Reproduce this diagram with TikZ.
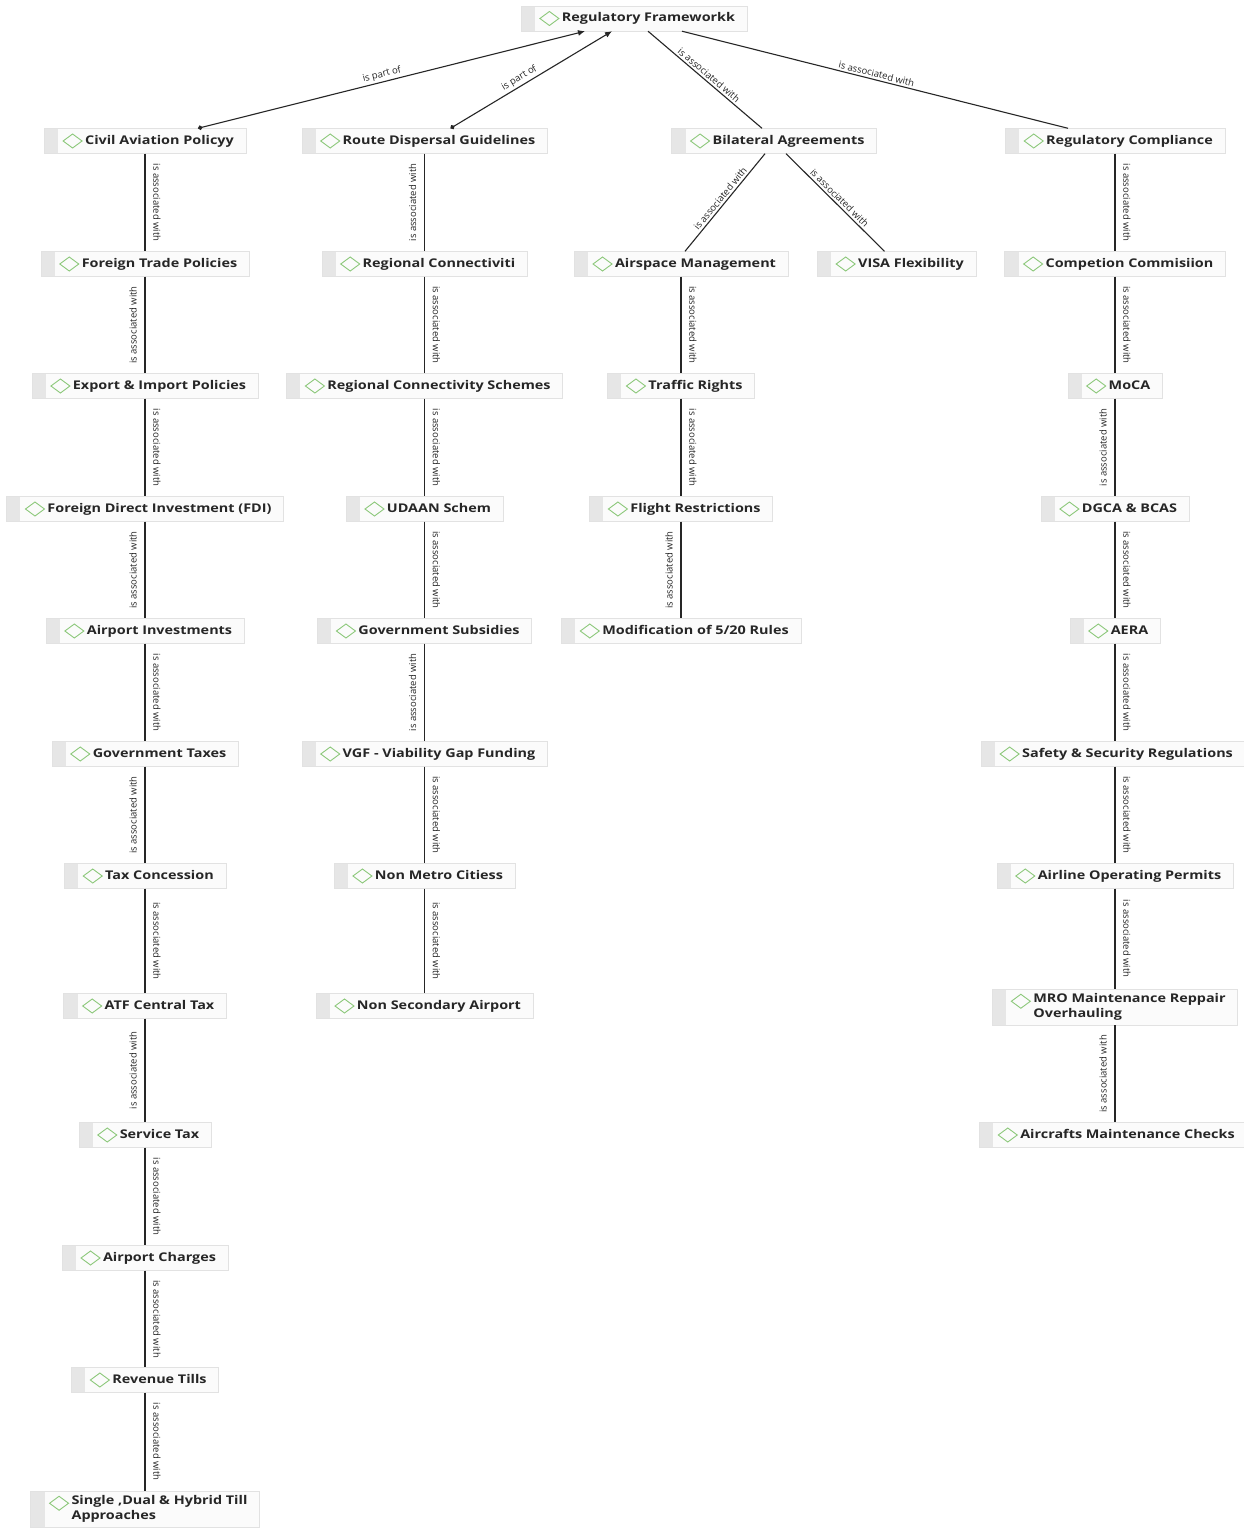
\documentclass[tikz,border=0pt]{standalone}
\usepackage{fontspec}
\setmainfont{Open Sans}
\newfontfamily\boxfont{Open Sans}[FakeStretch=1.2]
\usetikzlibrary{arrows.meta}
\definecolor{diamg}{HTML}{8CC87A}
\definecolor{stripe}{HTML}{E6E6E6}
\definecolor{boxfill}{HTML}{FBFBFB}
\definecolor{boxline}{HTML}{E2E2E2}
\tikzset{
  box/.style={draw=boxline, fill=boxfill, font=\boxfont\bfseries\fontsize{12}{14.5}\selectfont,
    text=black!85, inner ysep=5pt, inner xsep=0pt, minimum height=25pt, align=left,
    text height=9pt, text depth=3pt,
    path picture={
      \fill[stripe] (path picture bounding box.north west) rectangle ([xshift=14pt]path picture bounding box.south west);
      \draw[diamg, line width=0.9pt] ([xshift=19pt,yshift=-12.5pt]path picture bounding box.north west)
         -- ++(9.5pt,7pt) -- ++(9.5pt,-7pt) -- ++(-9.5pt,-7pt) -- cycle;
    }},
  twoline/.style={text depth=17.5pt},
  edge/.style={draw=black!85, line width=1.1pt},
  lab/.style={font=\fontsize{9.5}{10}\selectfont, inner sep=1pt, text=black!85},
  labR/.style={lab, xshift=12pt, rotate=-90},
  labL/.style={lab, xshift=-12pt, rotate=90},
}
\newcommand{\bx}[1]{\hspace*{41pt}#1\hspace*{12pt}}
\newcommand{\bxx}[2]{\hspace*{41pt}\begin{tabular}[t]{@{}l@{}}#1\\#2\end{tabular}\hspace*{12pt}}
\begin{document}
\begin{tikzpicture}[x=1pt,y=-1pt]
\fill[white] (0,0) rectangle (1244,1528);
\useasboundingbox (0,0) rectangle (1244,1528);

% top
\node[box] (reg) at (634,18.5) {\bx{Regulatory Frameworkk}};

% column 1
\node[box] (civ) at (145,141) {\bx{Civil Aviation Policyy}};
\node[box] (ftp) at (145,264) {\bx{Foreign Trade Policies}};
\node[box] (eip) at (145,386) {\bx{Export \& Import Policies}};
\node[box] (fdi) at (145,509) {\bx{Foreign Direct Investment (FDI)}};
\node[box] (ai)  at (145,631) {\bx{Airport Investments}};
\node[box] (gt)  at (145,754) {\bx{Government Taxes}};
\node[box] (tc)  at (145,876) {\bx{Tax Concession}};
\node[box] (atf) at (145,1006) {\bx{ATF Central Tax}};
\node[box] (st)  at (145,1135) {\bx{Service Tax}};
\node[box] (ac)  at (145,1258) {\bx{Airport Charges}};
\node[box] (rt)  at (145,1380) {\bx{Revenue Tills}};
\node[box, twoline] (sd) at (145,1509) {\bxx{Single ,Dual \& Hybrid Till}{Approaches}};

% column 2
\node[box] (rdg) at (424.5,141) {\bx{Route Dispersal Guidelines}};
\node[box] (rc)  at (424.5,264) {\bx{Regional Connectiviti}};
\node[box] (rcs) at (424.5,386) {\bx{Regional Connectivity Schemes}};
\node[box] (ud)  at (424.5,509) {\bx{UDAAN Schem}};
\node[box] (gs)  at (424.5,631) {\bx{Government Subsidies}};
\node[box] (vgf) at (424.5,754) {\bx{VGF - Viability Gap Funding}};
\node[box] (nm)  at (424.5,876) {\bx{Non Metro Citiess}};
\node[box] (nsa) at (424.5,1006) {\bx{Non Secondary Airport}};

% column 3
\node[box] (bil) at (774,141) {\bx{Bilateral Agreements}};
\node[box] (air) at (681,264) {\bx{Airspace Management}};
\node[box] (visa) at (896.5,264) {\bx{VISA Flexibility}};
\node[box] (tr)  at (681,386) {\bx{Traffic Rights}};
\node[box] (fr)  at (681,509) {\bx{Flight Restrictions}};
\node[box] (mod) at (681,631) {\bx{Modification of 5/20 Rules}};

% column 4
\node[box] (rcm) at (1115,141) {\bx{Regulatory Compliance}};
\node[box] (cc)  at (1115,264) {\bx{Competion Commisiion}};
\node[box] (moca) at (1115,386) {\bx{MoCA}};
\node[box] (dgca) at (1115,509) {\bx{DGCA \& BCAS}};
\node[box] (aera) at (1115,631) {\bx{AERA}};
\node[box] (ssr) at (1113,754) {\bx{Safety \& Security Regulations}};
\node[box] (aop) at (1115,876) {\bx{Airline Operating Permits}};
\node[box, twoline] (mro) at (1115,1007) {\bxx{MRO Maintenance Reppair}{Overhauling}};
\node[box] (amc) at (1113,1135) {\bx{Aircrafts Maintenance Checks}};

% top connectors
\draw[edge, {Circle[length=4.5pt]}-{Latex[length=7pt,width=6pt]}]
  ([xshift=53pt]civ.north) -- node[lab, sloped, above=1pt, pos=0.48]{is part of} ([xshift=-49pt]reg.south);
\draw[edge, {Circle[length=4.5pt]}-{Latex[length=7pt,width=6pt]}]
  ([xshift=26pt]rdg.north) -- node[lab, sloped, above=1pt, pos=0.45]{is part of} ([xshift=-22pt]reg.south);
\draw[edge] ([xshift=14pt]reg.south) -- node[lab, sloped, above=1pt]{is associated with} ([xshift=-12pt]bil.north);
\draw[edge] ([xshift=48pt]reg.south) -- node[lab, sloped, above=1pt]{is associated with} ([xshift=-47pt]rcm.north);
\draw[edge] ([xshift=-9pt]bil.south) -- node[lab, sloped, above=1pt]{is associated with} ([xshift=4pt]air.north);
\draw[edge] ([xshift=12pt]bil.south) -- node[lab, sloped, above=1pt]{is associated with} ([xshift=-12pt]visa.north);

% column 1 connectors
\draw[edge] (civ) -- node[labR]{is associated with} (ftp);
\draw[edge] (ftp) -- node[labL]{is associated with} (eip);
\draw[edge] (eip) -- node[labR]{is associated with} (fdi);
\draw[edge] (fdi) -- node[labL]{is associated with} (ai);
\draw[edge] (ai)  -- node[labR]{is associated with} (gt);
\draw[edge] (gt)  -- node[labL]{is associated with} (tc);
\draw[edge] (tc)  -- node[labR]{is associated with} (atf);
\draw[edge] (atf) -- node[labL]{is associated with} (st);
\draw[edge] (st)  -- node[labR]{is associated with} (ac);
\draw[edge] (ac)  -- node[labR]{is associated with} (rt);
\draw[edge] (rt)  -- node[labR]{is associated with} (sd);

% column 2 connectors
\draw[edge] (rdg) -- node[labL]{is associated with} (rc);
\draw[edge] (rc)  -- node[labR]{is associated with} (rcs);
\draw[edge] (rcs) -- node[labR]{is associated with} (ud);
\draw[edge] (ud)  -- node[labR]{is associated with} (gs);
\draw[edge] (gs)  -- node[labL]{is associated with} (vgf);
\draw[edge] (vgf) -- node[labR]{is associated with} (nm);
\draw[edge] (nm)  -- node[labR]{is associated with} (nsa);

% column 3 connectors
\draw[edge] (air) -- node[labR]{is associated with} (tr);
\draw[edge] (tr)  -- node[labR]{is associated with} (fr);
\draw[edge] (fr)  -- node[labL]{is associated with} (mod);

% column 4 connectors
\draw[edge] (rcm) -- node[labR]{is associated with} (cc);
\draw[edge] (cc)  -- node[labR]{is associated with} (moca);
\draw[edge] (moca) -- node[labL]{is associated with} (dgca);
\draw[edge] (dgca) -- node[labR]{is associated with} (aera);
\draw[edge] (aera) -- node[labR]{is associated with} (ssr.north -| aera);
\draw[edge] (ssr.south -| aera) -- node[labR]{is associated with} (aop);
\draw[edge] (aop) -- node[labR]{is associated with} (mro);
\draw[edge] (mro) -- node[labL]{is associated with} (amc.north -| mro);
\end{tikzpicture}
\end{document}
